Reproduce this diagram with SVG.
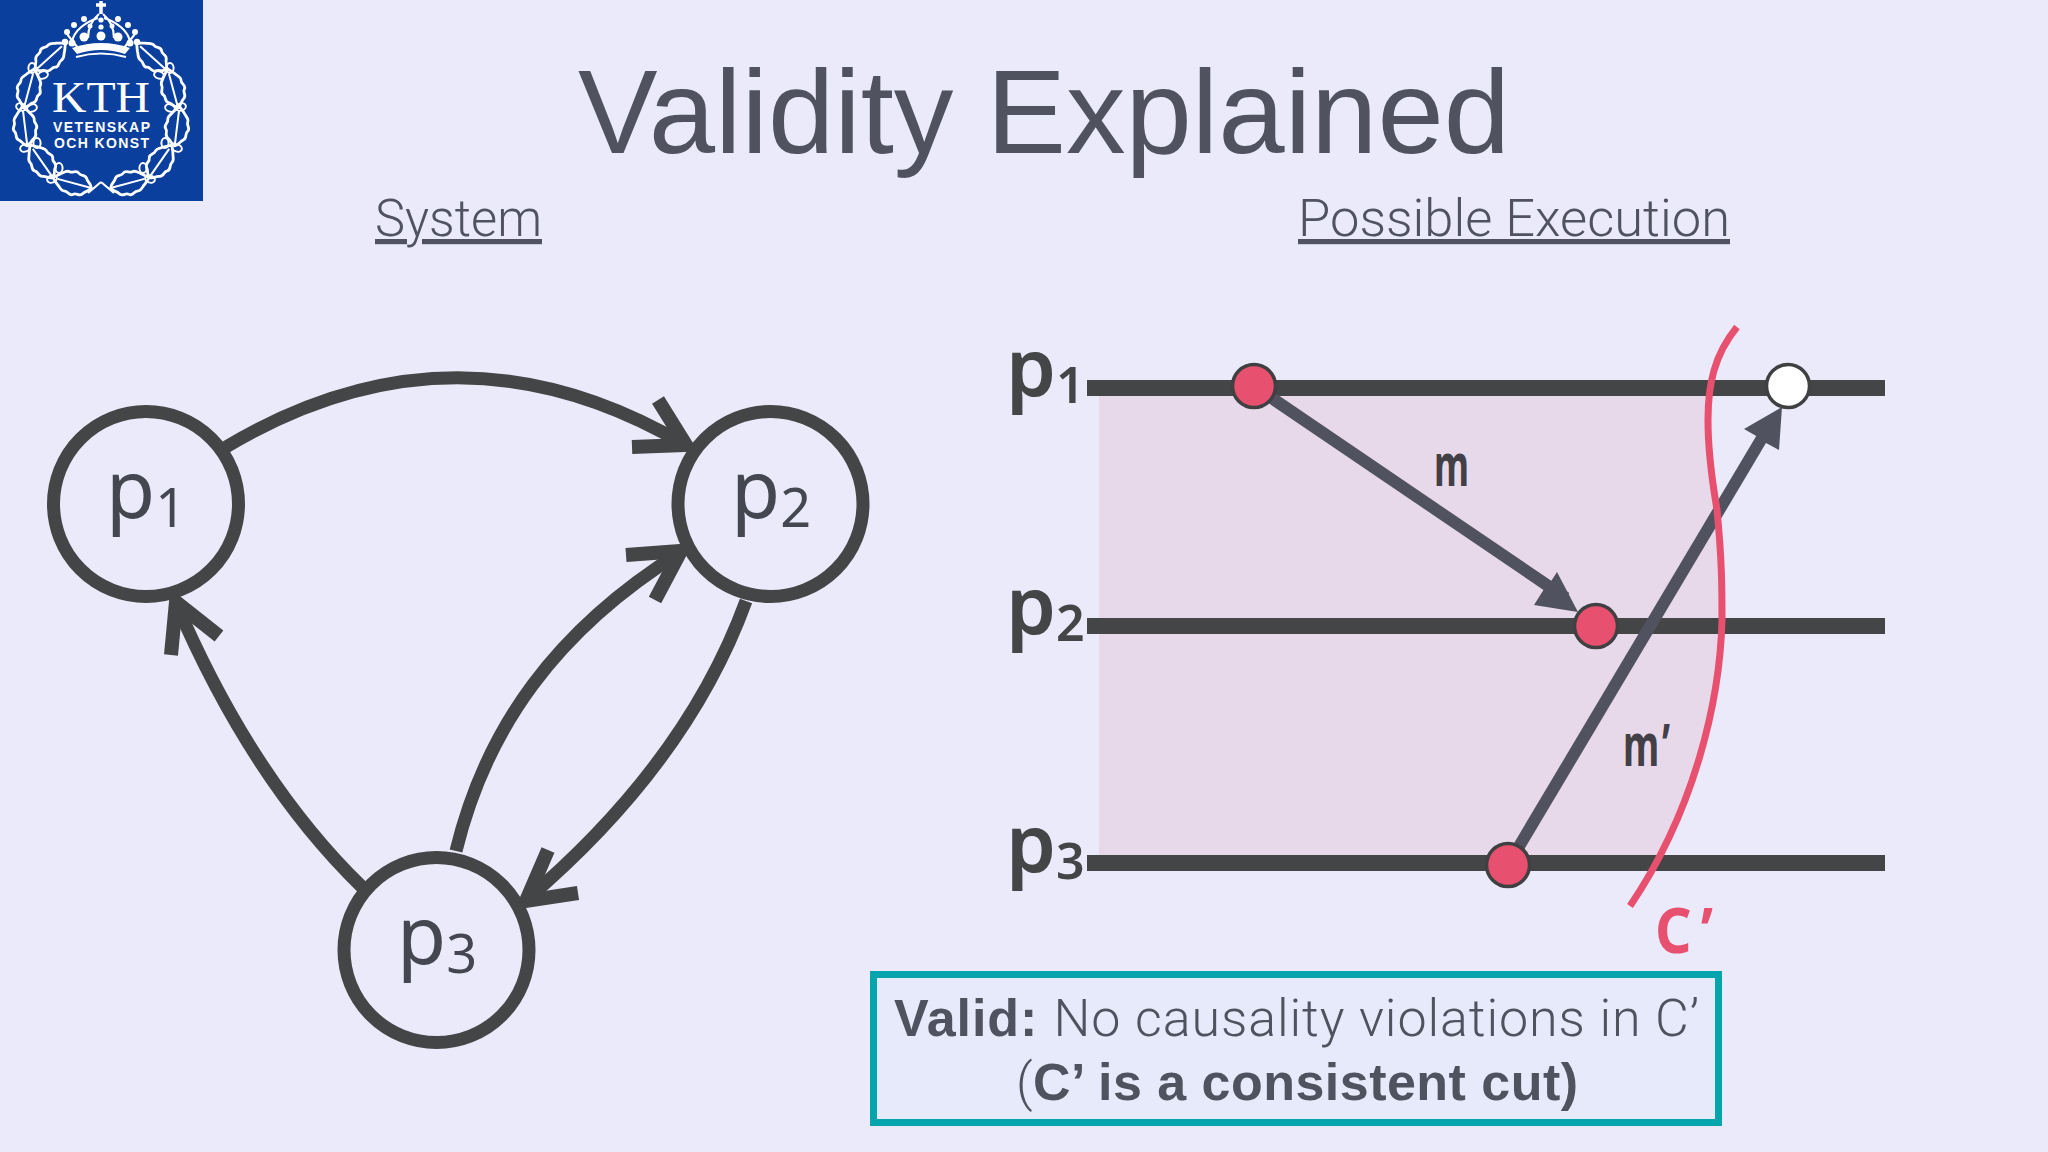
<svg xmlns="http://www.w3.org/2000/svg" width="2048" height="1152" viewBox="0 0 2048 1152">
<defs>
<style>
.light{font-family:"Roboto","Liberation Sans",sans-serif;font-weight:300;fill:#50535f}
.bold{font-family:"Liberation Sans",Arial,sans-serif;font-weight:700;fill:#50535f}
.node{fill:none;stroke:#444546;stroke-width:13}
.nl{font-family:"Noto Sans",sans-serif;font-weight:400;font-size:80px;fill:#444750}
.nls{font-size:54px}
.conn{fill:none;stroke:#444546;stroke-width:13}
.head{fill:none;stroke:#444546;stroke-width:14}
.tl{fill:none;stroke:#444546;stroke-width:16}
.tlt{font-family:"Noto Sans",sans-serif;font-weight:600;font-size:80px;fill:#444546}
.tls{font-size:50px}
.msg{fill:none;stroke:#50535f;stroke-width:12}
.arr{fill:#50535f}
.ev{fill:#e8506f;stroke:#3f4042;stroke-width:3.5}
.ml{font-family:"Noto Sans",sans-serif;font-weight:700;font-size:60px;fill:#433f47}
.lw{fill:none;stroke:#fff;stroke-width:2.2}
.lf{fill:#fff}
</style>
<clipPath id="shadeClip"><rect x="1099" y="388" width="700" height="475"/></clipPath>
<g id="leaf"><path d="M-19,0C-17,-5-14,-4-12,-8C-9,-12-6,-8-3,-11C0,-14 3,-9 6,-10C10,-11 12,-7 14,-6C18,-3 19,-1 21,0C19,1 18,3 14,6C12,7 10,11 6,10C3,9 0,14-3,11C-6,8-9,12-12,8C-14,4-17,5-19,0Z" fill="none" stroke="#fff" stroke-width="2.8"/><path d="M-19,0L16,0" stroke="#fff" stroke-width="2"/></g>
<g id="acorn"><ellipse cx="0" cy="0" rx="3.6" ry="5" fill="none" stroke="#fff" stroke-width="2"/></g>
<g id="halfWreath">
<use href="#leaf" transform="translate(50,57) rotate(-42)"/>
<use href="#leaf" transform="translate(29,89) rotate(-75)"/>
<use href="#leaf" transform="translate(25,127) rotate(-97)"/>
<use href="#leaf" transform="translate(42,162) rotate(-125)"/>
<use href="#leaf" transform="translate(73,183) rotate(-165)"/>
<use href="#acorn" transform="translate(32,68)"/>
<use href="#acorn" transform="translate(43,75) rotate(70)"/>
<use href="#acorn" transform="translate(21,107) rotate(-70)"/>
<use href="#acorn" transform="translate(32,108) rotate(70)"/>
<use href="#acorn" transform="translate(25,148) rotate(70)"/>
<use href="#acorn" transform="translate(37,143)"/>
<use href="#acorn" transform="translate(52,179) rotate(70)"/>
<use href="#acorn" transform="translate(59,168)"/>
<path d="M88,193L101,182" class="lw"/>
<path d="M78,48C72,40 68,36 66,32" class="lw"/>
<path d="M72,42C74,30 86,22 98,18M88,38C88,28 92,20 99,14" class="lw"/>
<circle cx="65" cy="42" r="3.2" class="lf"/><circle cx="67" cy="32" r="3" class="lf"/><circle cx="74" cy="25" r="3" class="lf"/><circle cx="84" cy="19" r="3" class="lf"/>
<circle cx="84" cy="37" r="4.5" class="lf"/><circle cx="72" cy="43" r="3.5" class="lf"/><circle cx="90" cy="26" r="2.5" class="lf"/>
</g>
</defs>
<rect width="2048" height="1152" fill="#eaeafa"/>
<g id="logo">
<rect width="203" height="201" fill="#0a3f9e"/>
<use href="#halfWreath"/>
<use href="#halfWreath" transform="translate(202,0) scale(-1,1)"/>
<path d="M101,1V14M96,5H106" stroke="#fff" stroke-width="3.5" fill="none"/>
<circle cx="101" cy="20" r="2.600" class="lf"/><circle cx="101" cy="27" r="2.600" class="lf"/>
<circle cx="101" cy="36" r="4.500" class="lf"/>
<path d="M72,48Q101,38 130,48L125,54Q101,46 77,54Z" class="lf"/>
<path d="M76,57Q101,50 126,57" class="lw"/>
<text x="101" y="112" text-anchor="middle" font-family="'Liberation Serif',serif" font-size="45" fill="#fff" textLength="98" lengthAdjust="spacingAndGlyphs">KTH</text>
<text x="101.500" y="132" text-anchor="middle" font-family="'Liberation Sans',sans-serif" font-weight="700" font-size="14" fill="#fff" textLength="97" lengthAdjust="spacing">VETENSKAP</text>
<text x="101.500" y="148" text-anchor="middle" font-family="'Liberation Sans',sans-serif" font-weight="700" font-size="14" fill="#fff" textLength="95" lengthAdjust="spacing">OCH KONST</text>
</g>
<text id="title" x="578" y="153" font-family="'Liberation Sans',Arial,sans-serif" font-size="119" fill="#50535f" textLength="932" lengthAdjust="spacingAndGlyphs">Validity Explained</text>
<text class="light" x="375" y="236" font-size="52" text-decoration="underline" textLength="167" lengthAdjust="spacingAndGlyphs">System</text>
<text class="light" x="1298" y="236" font-size="52" text-decoration="underline" textLength="432" lengthAdjust="spacingAndGlyphs">Possible Execution</text>
<g id="connectors">
<path class="conn" d="M226,447Q455,310 684,444"/>
<path class="head" d="M658,400L686,445L632,447"/>
<path class="conn" d="M362,887Q252,780 176,603"/>
<path class="head" d="M171,655L176,602L219,636"/>
<path class="conn" d="M456,851C486,728 556,630 681,552"/>
<path class="head" d="M626,555L681,551L655,600"/>
<path class="conn" d="M746,601Q687,763 526,900"/>
<path class="head" d="M548,850L526,901L578,893"/>
</g>
<g id="p1"><circle class="node" cx="146" cy="504" r="92.500"/><text class="nl" x="106" y="518">p<tspan class="nls" dy="9">1</tspan></text></g>
<g id="p2"><circle class="node" cx="770.500" cy="504" r="92.500"/><text class="nl" x="731" y="518">p<tspan class="nls" dy="9">2</tspan></text></g>
<g id="p3"><circle class="node" cx="436.500" cy="950" r="92.500"/><text class="nl" x="397" y="964">p<tspan class="nls" dy="9">3</tspan></text></g>
<g id="execution">
<path clip-path="url(#shadeClip)" d="M1099,388H1710C1708,398 1708,410 1708,420C1708,460 1714,490 1717,510C1722,560 1722,590 1722,620C1720,700 1695,810 1630,906H1099Z" fill="#e8d9ea"/>
<path class="tl" d="M1087,388H1885M1087,626H1885M1087,863H1885"/>
<text class="tlt" x="1006" y="396">p<tspan class="tls" dy="7">1</tspan></text>
<text class="tlt" x="1006" y="634">p<tspan class="tls" dy="7">2</tspan></text>
<text class="tlt" x="1006" y="872">p<tspan class="tls" dy="7">3</tspan></text>
<path class="msg" d="M1254,386L1566,598"/>
<path class="arr" d="M1578,612L1557,572L1548,586L1546,586L1534,605Z"/>
<path class="msg" d="M1508,865L1762,438"/>
<path class="arr" d="M1782,407L1744,429L1758,437L1766,443L1779,450Z"/>
<path d="M1737,327C1714,355 1708,385 1708,420C1708,460 1714,490 1717,510C1722,560 1722,590 1722,620C1720,700 1695,810 1630,906" fill="none" stroke="#e8506f" stroke-width="7"/>
<circle class="ev" cx="1254" cy="386" r="21.500"/>
<circle class="ev" cx="1596" cy="626" r="21.500"/>
<circle class="ev" cx="1508" cy="865" r="21.500"/>
<circle class="ev" cx="1788" cy="386" r="21.500" style="fill:#fff"/>
<text class="ml" x="1434" y="486" textLength="35" lengthAdjust="spacingAndGlyphs">m</text>
<text class="ml" transform="translate(1623,766) scale(.62,1)" letter-spacing="5">m’</text>
<text transform="translate(1655,953) scale(.92,1)" font-family="'Noto Sans',sans-serif" font-weight="700" font-size="62" letter-spacing="10" fill="#e8506f">C’</text>
</g>
<g id="note">
<rect x="873.500" y="974.500" width="845" height="148" fill="#e6eafa" stroke="#04a5ad" stroke-width="7"/>
<text x="894" y="1036" font-size="52" class="bold" textLength="805" lengthAdjust="spacing">Valid: <tspan class="light">No causality violations in C’</tspan></text>
<text x="1016" y="1100" font-size="52" class="bold" textLength="562" lengthAdjust="spacing"><tspan class="light">(</tspan>C’ is a consistent cut)</text>
</g>
</svg>
